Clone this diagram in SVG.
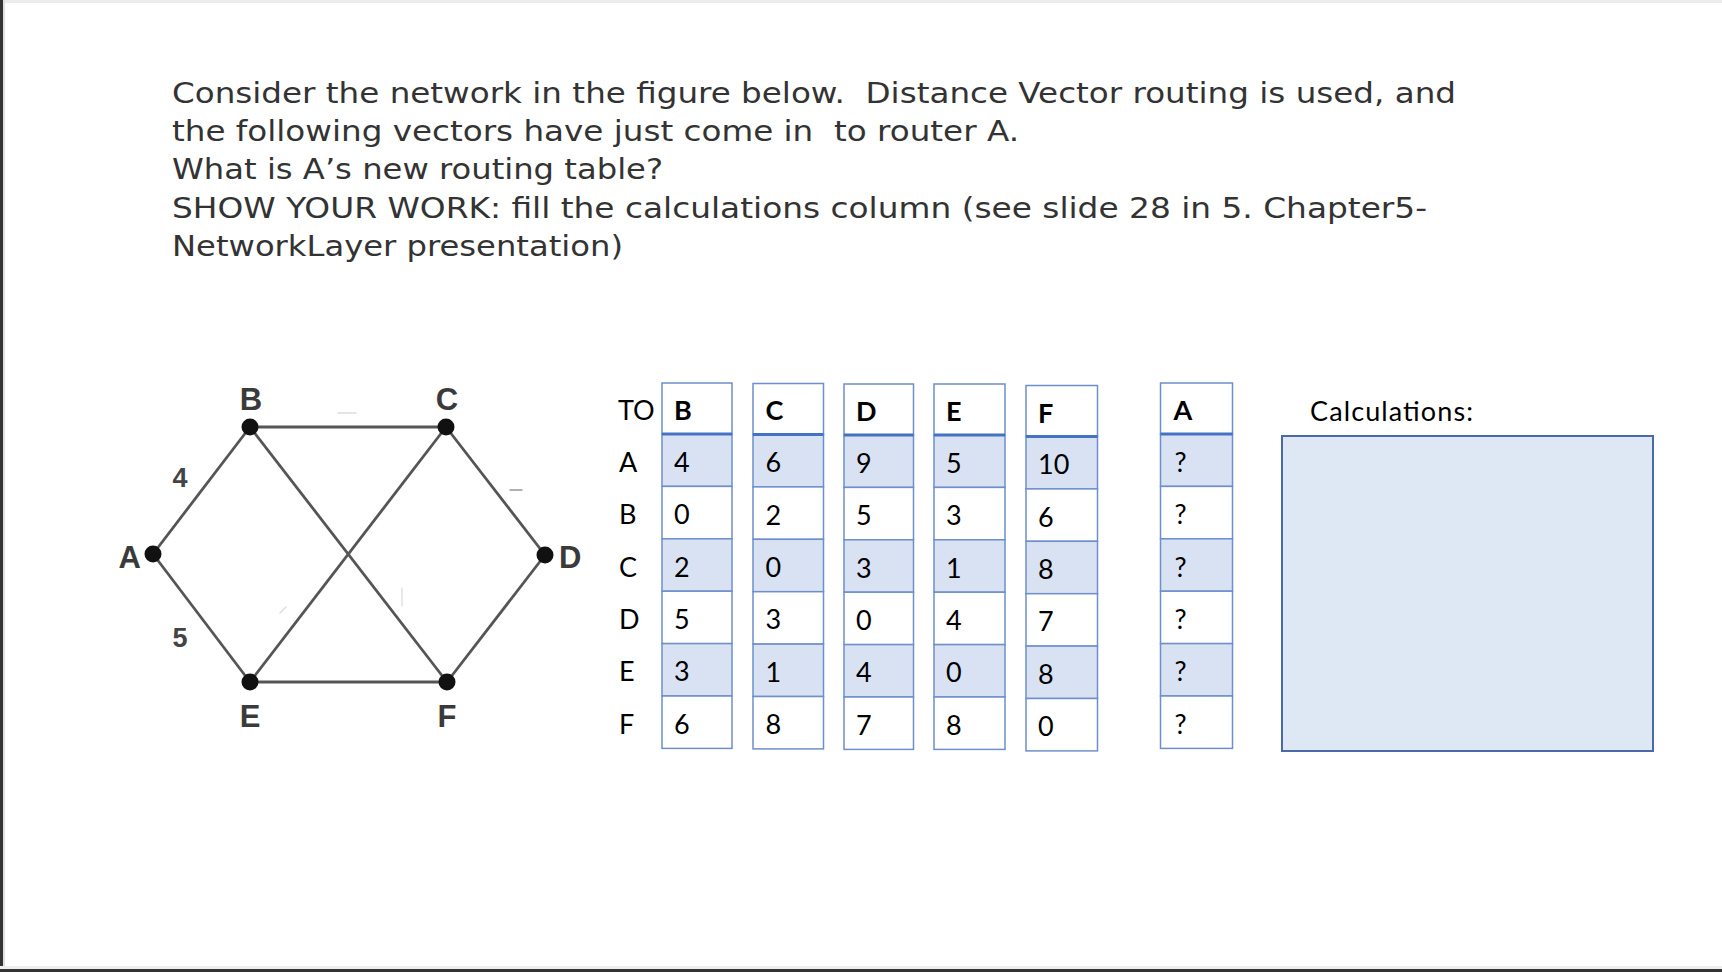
<svg xmlns="http://www.w3.org/2000/svg" width="1722" height="972" viewBox="0 0 1722 972">
<style>
.q{font-family:"DejaVu Sans","Open Sans",Verdana,sans-serif;font-size:29px;fill:#333;white-space:pre}
.t{font-family:Lato,"Open Sans",sans-serif;font-size:27px;fill:#000}
.b{font-weight:bold}
.g{font-family:"Liberation Sans",Arial,sans-serif;font-size:31px;font-weight:bold;fill:#3a3a3a}
.gn{font-family:"Liberation Sans",Arial,sans-serif;font-size:27px;font-weight:bold;fill:#444}
.hdr{fill:#fff;stroke:#6e8fca;stroke-width:1.5}
.sh{fill:#d9e2f3;stroke:#6e8fca;stroke-width:1.5}
.pl{fill:#fff;stroke:#6e8fca;stroke-width:1.5}
.hl{stroke:#4472c4;stroke-width:3}
.e{stroke:#555;stroke-width:2.8;fill:none}
.n{fill:#111}
</style>
<rect width="1722" height="972" fill="#fff"/>
<rect x="0" y="0" width="1722" height="3" fill="#ececec"/>
<rect x="0" y="0" width="3" height="972" fill="#333"/>
<rect x="3" y="0" width="2" height="972" fill="#e0e0e0"/>
<rect x="0" y="966" width="1722" height="3" fill="#eeeeee"/>
<rect x="0" y="969" width="1722" height="3" fill="#333"/>

<g id="question" xml:space="preserve">
<text class="q" x="172" y="102.5" textLength="1284" lengthAdjust="spacingAndGlyphs">Consider the network in the figure below.  Distance Vector routing is used, and</text>
<text class="q" x="172" y="141" textLength="847" lengthAdjust="spacingAndGlyphs">the following vectors have just come in  to router A.</text>
<text class="q" x="172" y="179.3" textLength="491" lengthAdjust="spacingAndGlyphs">What is A’s new routing table?</text>
<text class="q" x="172" y="217.6" textLength="1255" lengthAdjust="spacingAndGlyphs">SHOW YOUR WORK: fill the calculations column (see slide 28 in 5. Chapter5-</text>
<text class="q" x="172" y="256" textLength="451" lengthAdjust="spacingAndGlyphs">NetworkLayer presentation)</text>
</g>

<g id="connectors">
<line class="e" x1="153" y1="554" x2="250" y2="427"/>
<line class="e" x1="153" y1="554" x2="250" y2="682"/>
<line class="e" x1="250" y1="427" x2="446" y2="427"/>
<line class="e" x1="250" y1="427" x2="447" y2="682"/>
<line class="e" x1="446" y1="427" x2="250" y2="682"/>
<line class="e" x1="446" y1="427" x2="545" y2="555"/>
<line class="e" x1="545" y1="555" x2="447" y2="682"/>
<line class="e" x1="250" y1="682" x2="447" y2="682"/>
<text class="gn" x="180" y="487" text-anchor="middle">4</text>
<text class="gn" x="180" y="647" text-anchor="middle">5</text>
</g>
<g id="artifacts" stroke-linecap="round">
<line x1="510" y1="490" x2="522" y2="490" stroke="#999" stroke-width="1.5"/>
<line x1="338" y1="413" x2="356" y2="413" stroke="#ddd" stroke-width="1.5"/>
<line x1="402" y1="588" x2="402" y2="606" stroke="#e2e2e2" stroke-width="1.5"/>
<line x1="280" y1="613" x2="286" y2="607" stroke="#ddd" stroke-width="1.5"/>
</g>

<g id="node-A"><circle class="n" cx="153" cy="554" r="8.5"/><text class="g" x="141" y="568" text-anchor="end">A</text></g>
<g id="node-B"><circle class="n" cx="250" cy="427" r="8.5"/><text class="g" x="251" y="410" text-anchor="middle">B</text></g>
<g id="node-C"><circle class="n" cx="446" cy="427" r="8.5"/><text class="g" x="447" y="410" text-anchor="middle">C</text></g>
<g id="node-D"><circle class="n" cx="545" cy="555" r="8.5"/><text class="g" x="559" y="568">D</text></g>
<g id="node-E"><circle class="n" cx="250" cy="682" r="8.5"/><text class="g" x="250" y="727" text-anchor="middle">E</text></g>
<g id="node-F"><circle class="n" cx="447" cy="682" r="8.5"/><text class="g" x="447" y="727" text-anchor="middle">F</text></g>

<g id="row-labels">
<text class="t" x="618" y="419.5">TO</text>
<text class="t" x="619" y="471.7">A</text>
<text class="t" x="619" y="524.1">B</text>
<text class="t" x="619" y="576.5">C</text>
<text class="t" x="619" y="628.9">D</text>
<text class="t" x="619" y="681.3">E</text>
<text class="t" x="619" y="733.7">F</text>
</g>

<g id="col-B" transform="translate(662,383)">
<rect class="hdr" x="0" y="0" width="70" height="51"/>
<rect class="sh" x="0" y="51" width="70" height="52.4"/>
<rect class="pl" x="0" y="103.4" width="70" height="52.4"/>
<rect class="sh" x="0" y="155.8" width="70" height="52.4"/>
<rect class="pl" x="0" y="208.2" width="70" height="52.4"/>
<rect class="sh" x="0" y="260.6" width="70" height="52.4"/>
<rect class="pl" x="0" y="313" width="70" height="52.4"/>
<line class="hl" x1="0" y1="51" x2="70" y2="51"/>
<text class="t b" x="12" y="36.5">B</text>
<text class="t" x="12" y="88.7">4</text>
<text class="t" x="12" y="141.1">0</text>
<text class="t" x="12" y="193.5">2</text>
<text class="t" x="12" y="245.9">5</text>
<text class="t" x="12" y="298.3">3</text>
<text class="t" x="12" y="350.7">6</text>
</g>

<g id="col-C" transform="translate(753,383.5)">
<rect class="hdr" x="0" y="0" width="70.5" height="51"/>
<rect class="sh" x="0" y="51" width="70.5" height="52.4"/>
<rect class="pl" x="0" y="103.4" width="70.5" height="52.4"/>
<rect class="sh" x="0" y="155.8" width="70.5" height="52.4"/>
<rect class="pl" x="0" y="208.2" width="70.5" height="52.4"/>
<rect class="sh" x="0" y="260.6" width="70.5" height="52.4"/>
<rect class="pl" x="0" y="313" width="70.5" height="52.4"/>
<line class="hl" x1="0" y1="51" x2="70.5" y2="51"/>
<text class="t b" x="12.5" y="36.5">C</text>
<text class="t" x="12.5" y="88.7">6</text>
<text class="t" x="12.5" y="141.1">2</text>
<text class="t" x="12.5" y="193.5">0</text>
<text class="t" x="12.5" y="245.9">3</text>
<text class="t" x="12.5" y="298.3">1</text>
<text class="t" x="12.5" y="350.7">8</text>
</g>

<g id="col-D" transform="translate(844,384)">
<rect class="hdr" x="0" y="0" width="69.5" height="51"/>
<rect class="sh" x="0" y="51" width="69.5" height="52.4"/>
<rect class="pl" x="0" y="103.4" width="69.5" height="52.4"/>
<rect class="sh" x="0" y="155.8" width="69.5" height="52.4"/>
<rect class="pl" x="0" y="208.2" width="69.5" height="52.4"/>
<rect class="sh" x="0" y="260.6" width="69.5" height="52.4"/>
<rect class="pl" x="0" y="313" width="69.5" height="52.4"/>
<line class="hl" x1="0" y1="51" x2="69.5" y2="51"/>
<text class="t b" x="12" y="36.5">D</text>
<text class="t" x="12" y="88.7">9</text>
<text class="t" x="12" y="141.1">5</text>
<text class="t" x="12" y="193.5">3</text>
<text class="t" x="12" y="245.9">0</text>
<text class="t" x="12" y="298.3">4</text>
<text class="t" x="12" y="350.7">7</text>
</g>

<g id="col-E" transform="translate(934,384)">
<rect class="hdr" x="0" y="0" width="71" height="51"/>
<rect class="sh" x="0" y="51" width="71" height="52.4"/>
<rect class="pl" x="0" y="103.4" width="71" height="52.4"/>
<rect class="sh" x="0" y="155.8" width="71" height="52.4"/>
<rect class="pl" x="0" y="208.2" width="71" height="52.4"/>
<rect class="sh" x="0" y="260.6" width="71" height="52.4"/>
<rect class="pl" x="0" y="313" width="71" height="52.4"/>
<line class="hl" x1="0" y1="51" x2="71" y2="51"/>
<text class="t b" x="12" y="36.5">E</text>
<text class="t" x="12" y="88.7">5</text>
<text class="t" x="12" y="141.1">3</text>
<text class="t" x="12" y="193.5">1</text>
<text class="t" x="12" y="245.9">4</text>
<text class="t" x="12" y="298.3">0</text>
<text class="t" x="12" y="350.7">8</text>
</g>

<g id="col-F" transform="translate(1026,385.5)">
<rect class="hdr" x="0" y="0" width="71.5" height="51"/>
<rect class="sh" x="0" y="51" width="71.5" height="52.4"/>
<rect class="pl" x="0" y="103.4" width="71.5" height="52.4"/>
<rect class="sh" x="0" y="155.8" width="71.5" height="52.4"/>
<rect class="pl" x="0" y="208.2" width="71.5" height="52.4"/>
<rect class="sh" x="0" y="260.6" width="71.5" height="52.4"/>
<rect class="pl" x="0" y="313" width="71.5" height="52.4"/>
<line class="hl" x1="0" y1="51" x2="71.5" y2="51"/>
<text class="t b" x="12" y="37">F</text>
<text class="t" x="12" y="88.7">10</text>
<text class="t" x="12" y="141.1">6</text>
<text class="t" x="12" y="193.5">8</text>
<text class="t" x="12" y="245.9">7</text>
<text class="t" x="12" y="298.3">8</text>
<text class="t" x="12" y="350.7">0</text>
</g>

<g id="col-A" transform="translate(1160.5,383)">
<rect class="hdr" x="0" y="0" width="72" height="51"/>
<rect class="sh" x="0" y="51" width="72" height="52.4"/>
<rect class="pl" x="0" y="103.4" width="72" height="52.4"/>
<rect class="sh" x="0" y="155.8" width="72" height="52.4"/>
<rect class="pl" x="0" y="208.2" width="72" height="52.4"/>
<rect class="sh" x="0" y="260.6" width="72" height="52.4"/>
<rect class="pl" x="0" y="313" width="72" height="52.4"/>
<line class="hl" x1="0" y1="51" x2="72" y2="51"/>
<text class="t b" x="13" y="36.5">A</text>
<text class="t" x="14" y="88.7">?</text>
<text class="t" x="14" y="141.1">?</text>
<text class="t" x="14" y="193.5">?</text>
<text class="t" x="14" y="245.9">?</text>
<text class="t" x="14" y="298.3">?</text>
<text class="t" x="14" y="350.7">?</text>
</g>

<g id="calculations">
<text class="t" x="1310" y="420.5" font-size="28" textLength="163">Calculations:</text>
<rect x="1282" y="436" width="371" height="315" fill="#dee8f5" stroke="#4a69a8" stroke-width="2"/>
</g>
</svg>
